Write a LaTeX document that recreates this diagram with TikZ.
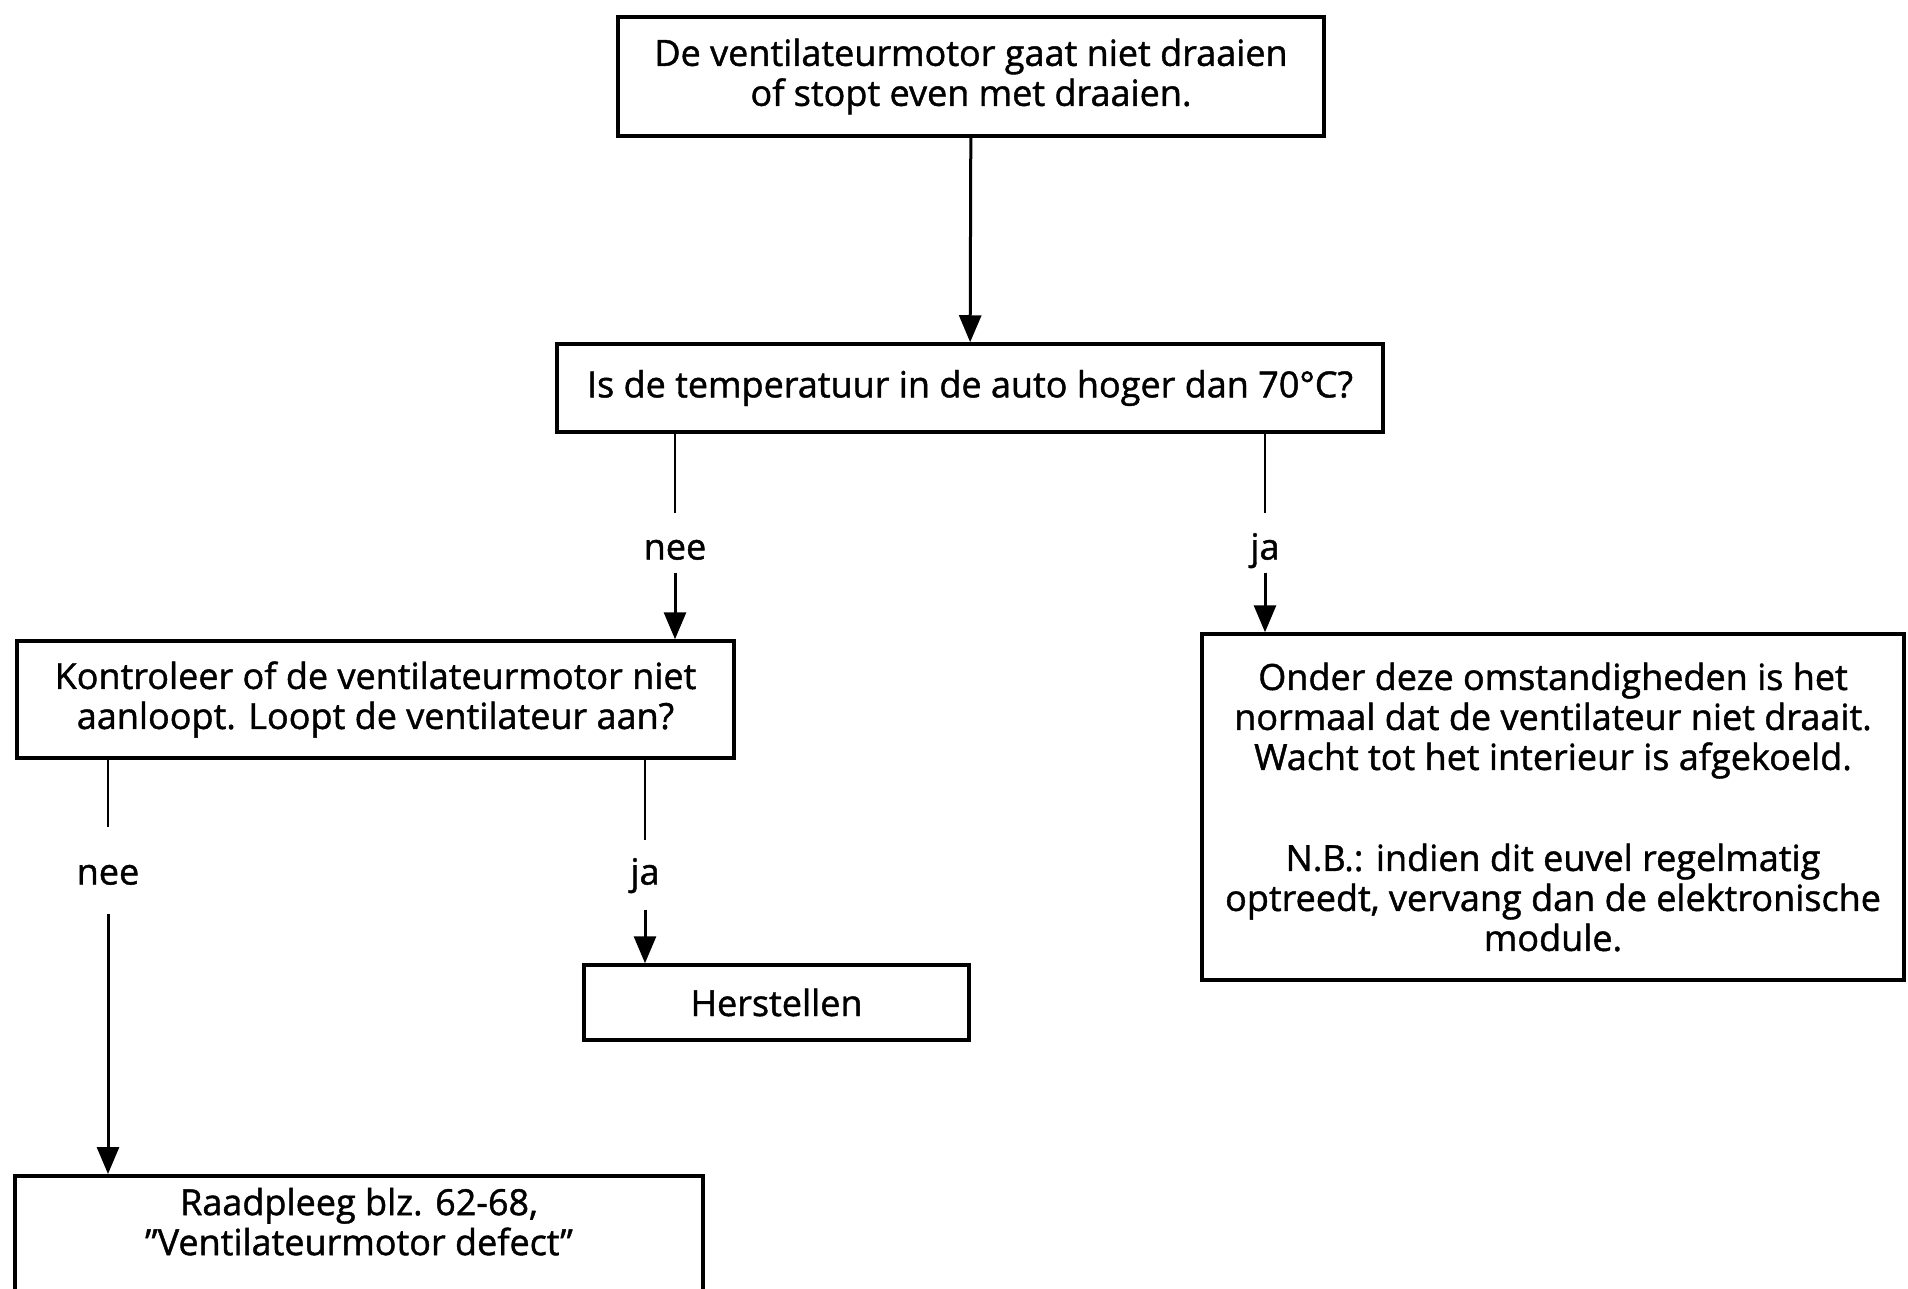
\documentclass[tikz,border=0pt]{standalone}
\usepackage{fontspec}
\setmainfont{Open Sans}[FakeBold=1.2]
\usetikzlibrary{positioning, arrows.meta}

\begin{document}
\begin{tikzpicture}[
    x=1pt, y=-1pt,
    every node/.style={font=\fontsize{36}{40}\selectfont},
    box/.style={draw, rectangle, line width=3.5pt, align=center, inner sep=0pt},
    answer/.style={inner sep=0pt, text height=24pt, text depth=7pt},
    link/.style={line width=2.5pt},
    thinlink/.style={line width=1.5pt},
    arrow/.style={-{Triangle[width=22pt,length=27pt]}, line width=3pt}
]
\useasboundingbox (0,0) rectangle (1908,1289);

\node[box, minimum width=706pt, minimum height=119pt] (start) at (971,76.5) {De ventilateurmotor gaat niet draaien\\ of stopt even met draaien.};
\node[box, minimum width=826pt, minimum height=88pt] (temp) at (970,388) {Is de temperatuur in de auto hoger dan 70°C?};
\node[box, minimum width=717pt, minimum height=117pt] (check) at (375.5,699.5) {Kontroleer of de ventilateurmotor niet\\ aanloopt. Loopt de ventilateur aan?};
\node[box, minimum width=702pt, minimum height=346pt] (normal) at (1553,807) {Onder deze omstandigheden is het\\ normaal dat de ventilateur niet draait.\\ Wacht tot het interieur is afgekoeld.\\[61pt] N.B.: indien dit euvel regelmatig\\ optreedt, vervang dan de elektronische\\ module.};
\node[box, minimum width=385pt, minimum height=75pt] (repair) at (776.5,1002.5) {Herstellen};
\node[box, minimum width=688pt, anchor=north, inner ysep=12pt, text depth=70pt] (refer) at (359,1174) {Raadpleeg blz. 62-68,\\ ''Ventilateurmotor defect''};

% antwoorden
\node[answer] (nee1) at (675,551) {nee};
\node[answer] (ja1) at (1265,551) {ja};
\node[answer] (nee2) at (108,876) {nee};
\node[answer] (ja2) at (645,876) {ja};

\draw[arrow] (start) -- (temp);

\draw[link, shorten >=22pt] (temp.south -| nee1) -- (nee1.north);
\draw[arrow, shorten <=6pt] (nee1.south) -- (nee1 |- check.north);
\draw[thinlink, shorten >=22pt] (temp.south -| ja1) -- (ja1.north);
\draw[arrow, shorten <=6pt] (ja1.south) -- (ja1 |- normal.north);

\draw[thinlink, shorten >=33pt] (check.south -| nee2) -- (nee2.north);
\draw[arrow, shorten <=22pt] (nee2.south) -- (nee2 |- refer.north);
\draw[thinlink, shorten >=20pt] (check.south -| ja2) -- (ja2.north);
\draw[arrow, shorten <=18pt] (ja2.south) -- (ja2 |- repair.north);

\end{tikzpicture}
\end{document}
